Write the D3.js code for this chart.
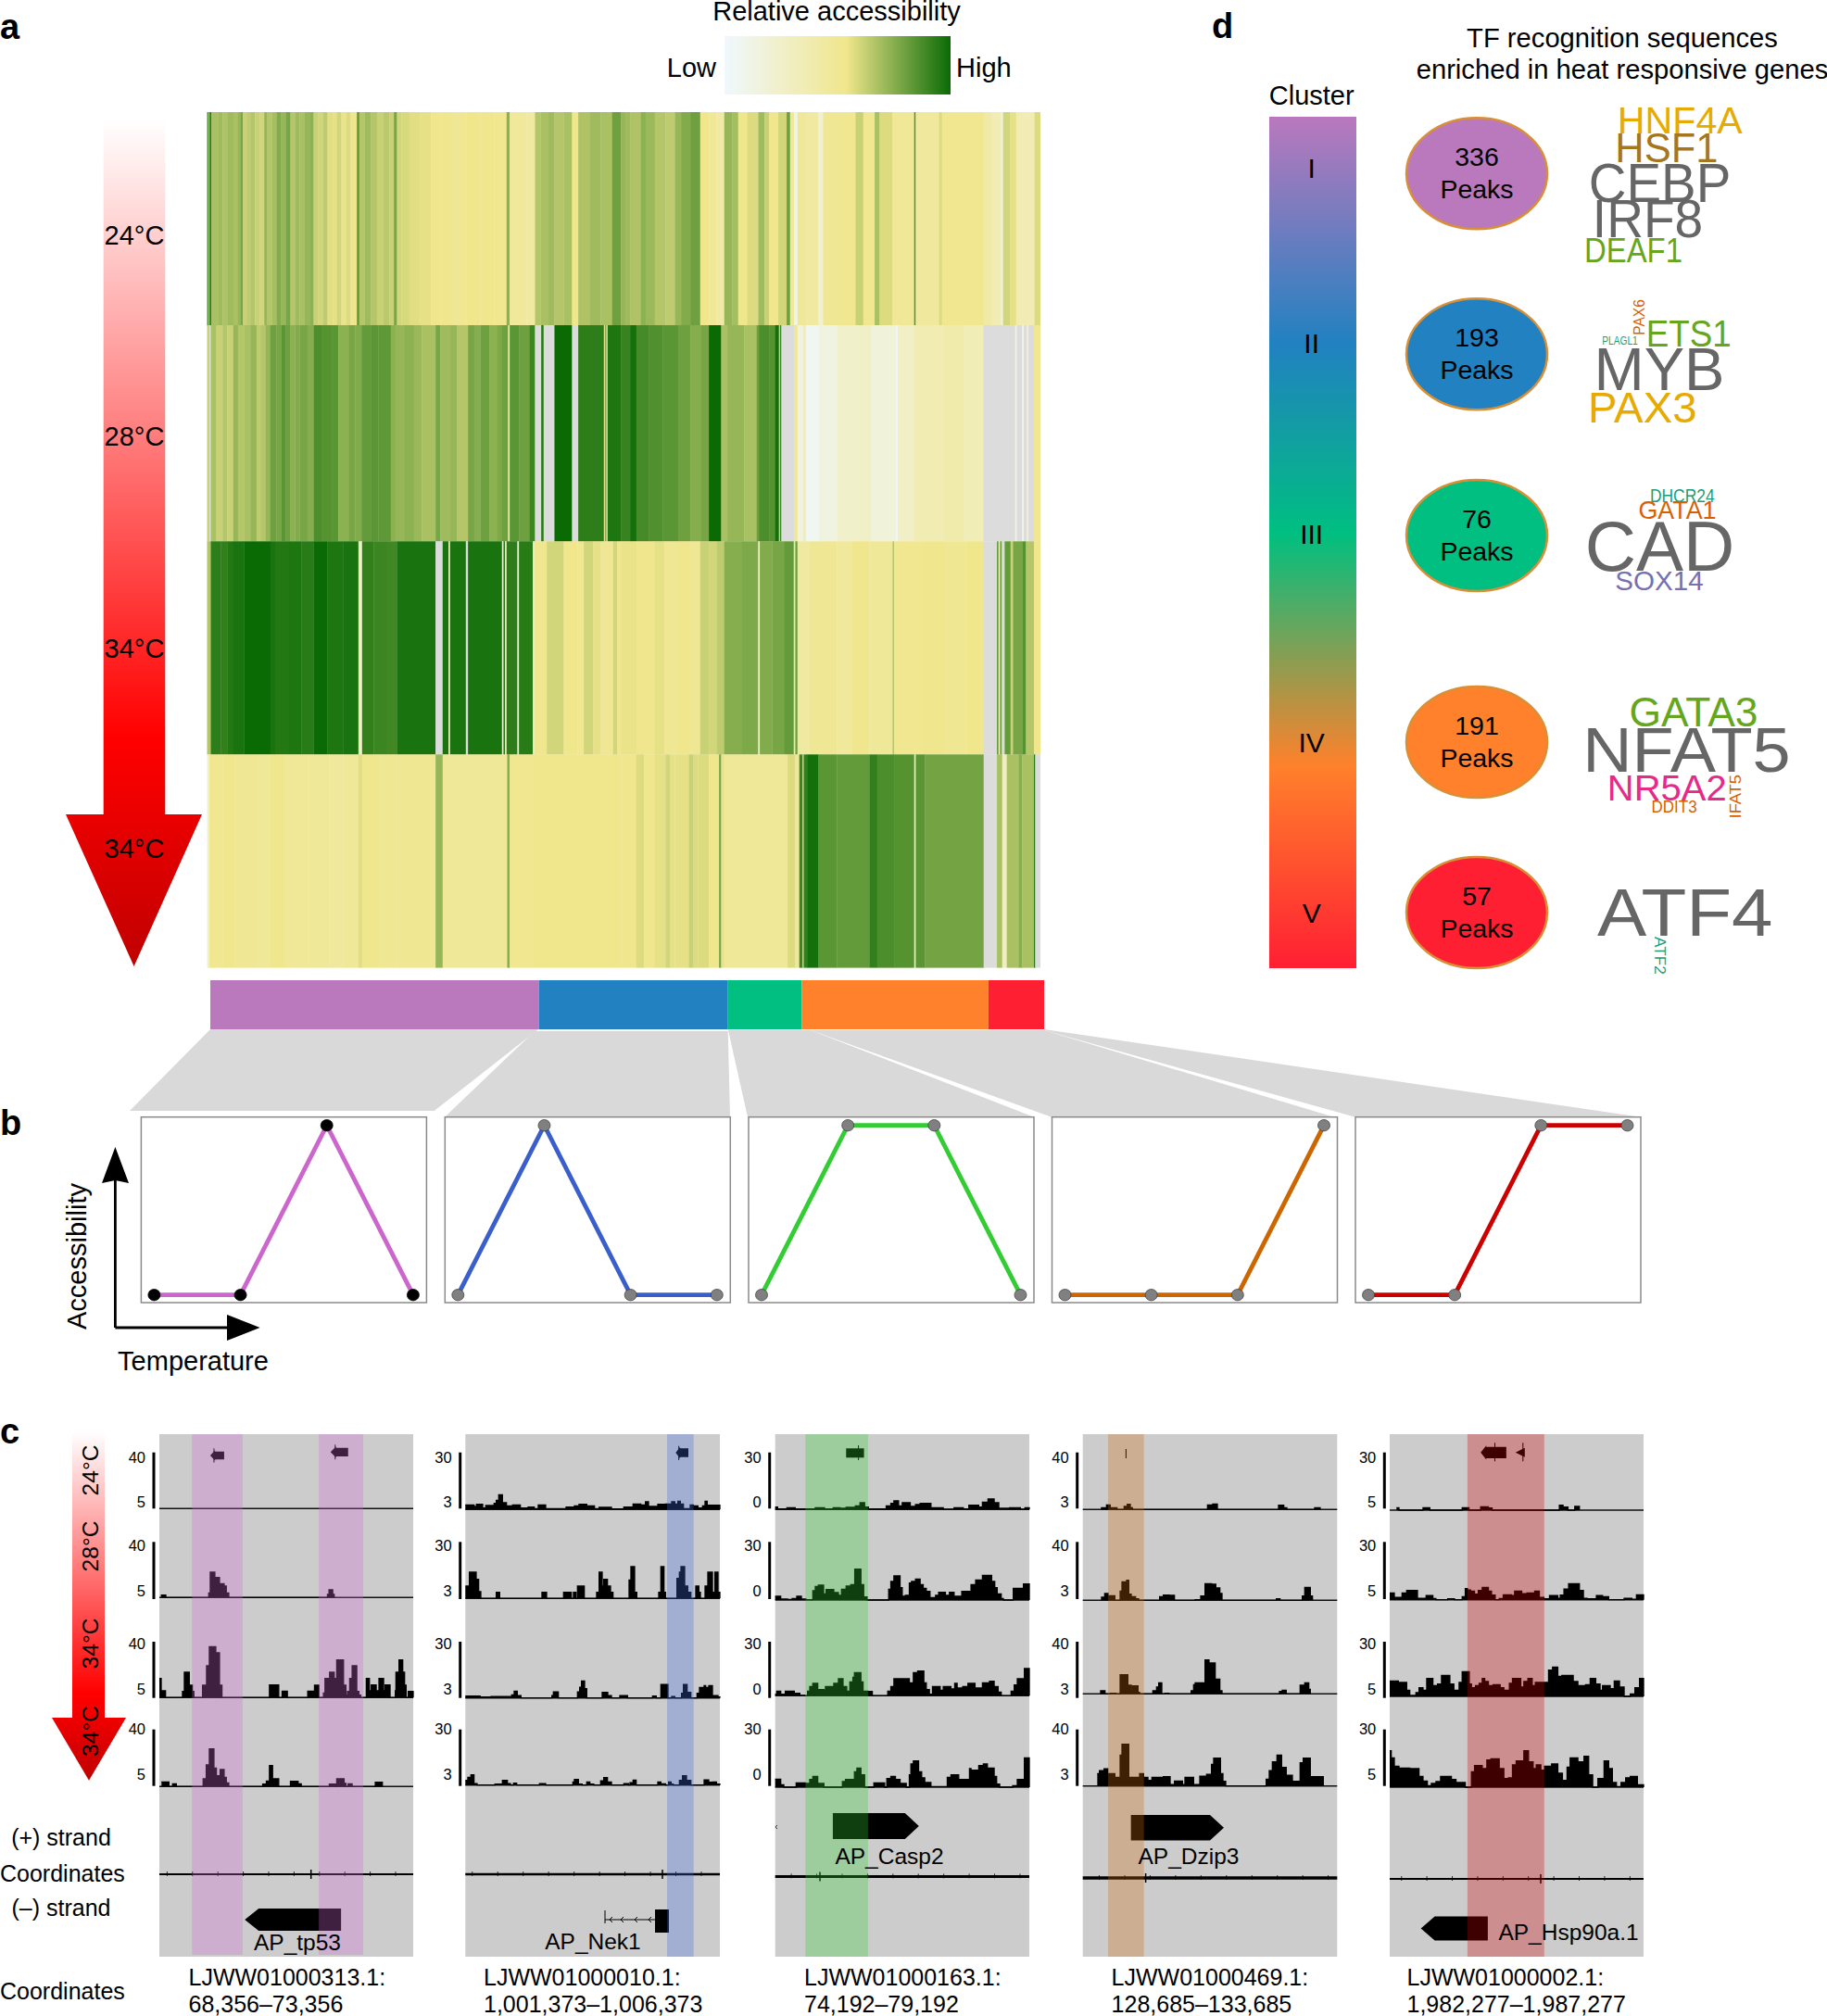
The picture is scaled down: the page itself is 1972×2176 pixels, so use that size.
<!DOCTYPE html>
<html><head><meta charset="utf-8">
<script src="https://cdn.jsdelivr.net/npm/d3@7"></script>
<style>html,body{margin:0;padding:0;background:#fff}svg{display:block}text{font-family:"Liberation Sans",Arial,sans-serif;fill:#000}</style>
</head><body><div id="chart"></div>
<script>
// ---------- DATA ----------
const temperatures = ["24°C","28°C","34°C","34°C"];
const clusters = ["I","II","III","IV","V"];
const peakCounts = [336,193,76,191,57];
const clusterColors = ["#ba78bd","#2181c1","#00bf80","#ff812b","#ff1f33"];
const profileI   = [0,0,1,0];
const profileII  = [0,1,0,0];
const profileIII = [0,1,1,0];
const profileIV  = [0,0,0,1];
const profileV   = [0,0,1,1];
const profileColors = ["#cc66cc","#3a5fcd","#32cd32","#cd6600","#cd0000"];

// heat map rows: [peak rank at which the stripe starts, relative accessibility]; null = no data
const heat24 = [[10,.85],[14,.7],[18,.92],[24,.68],[45,.7],[60,.67],[75,.7],[95,.68],[110,.72],[118,.78],[126,.62],[140,.64],[150,.66],[165,.62],[180,.6],[195,.72],[205,.66],[220,.69],[235,.76],[250,.72],[265,.78],[280,.66],[295,.7],[310,.68],[325,.72],[342,.74],[355,.62],[370,.6],[385,.64],[400,.57],[418,.56],[430,.6],[445,.55],[460,.58],[475,.54],[495,.82],[503,.66],[520,.7],[540,.66],[560,.62],[580,.65],[600,.62],[615,.78],[625,.6],[640,.59],[665,.57],[700,.56],[735,.54],[765,.53],[800,.5],[830,.52],[850,.54],[895,.53],[940,.52],[980,.74],[990,.47],[1045,.44],[1072,.66],[1090,.68],[1115,.7],[1135,.66],[1165,.68],[1192,.54],[1212,.67],[1250,.7],[1285,.68],[1322,.8],[1350,.72],[1365,.7],[1380,.67],[1415,.74],[1430,.71],[1460,.66],[1495,.64],[1525,.72],[1545,.76],[1575,.8],[1607,.54],[1635,.48],[1660,.42],[1685,.72],[1710,.69],[1730,.54],[1760,.58],[1795,.7],[1815,.62],[1830,.54],[1860,.6],[1887,.8],[1898,.47],[1912,.1],[1922,.48],[1950,.44],[1990,.2],[2005,.5],[2060,.52],[2110,.62],[2135,.52],[2172,.68],[2188,.58],[2230,.49],[2300,.85],[2305,.46],[2380,.58],[2390,.52],[2525,.42],[2550,.36],[2580,.2],[2588,.6],[2610,.56],[2630,.35],[2690,.58]];
const heat28 = [[10,.62],[18,null],[22,.68],[40,.62],[60,.66],[75,.62],[95,.72],[110,.66],[130,.68],[150,.72],[170,.64],[185,.66],[200,.72],[215,.8],[235,.78],[250,.84],[265,.8],[280,.74],[295,.76],[310,.78],[335,.75],[355,.87],[380,.85],[410,.84],[435,.74],[470,.78],[490,.76],[510,.82],[540,.84],[565,.83],[605,.74],[620,.72],[650,.74],[680,.71],[705,.68],[750,.78],[765,.7],[795,.72],[820,.66],[855,.78],[875,.75],[895,.8],[925,.74],[950,.77],[965,.8],[985,.5],[990,.84],[1020,.8],[1055,.9],[1072,null],[1092,.93],[1100,null],[1135,1],[1192,null],[1212,.93],[1295,.55],[1300,.93],[1303,.4],[1307,.96],[1350,.91],[1380,.98],[1400,.88],[1440,.86],[1485,.84],[1535,.8],[1575,.75],[1610,.78],[1635,1],[1675,.68],[1695,.72],[1750,.68],[1790,.8],[1797,.87],[1830,.85],[1850,.98],[1862,.3],[1865,.9],[1870,null],[1912,.5],[1922,.15],[1940,.3],[1950,.06],[1990,.15],[2050,.25],[2120,.27],[2160,.18],[2240,.05],[2247,.27],[2300,.36],[2395,.4],[2460,.34],[2525,null],[2627,.1],[2632,null],[2650,.1],[2655,null],[2665,.2],[2670,null],[2688,.52]];
const heat34a = [[10,.66],[22,.93],[55,.92],[75,.95],[95,.97],[130,1],[215,.97],[230,.95],[275,.96],[315,.94],[355,1],[400,.96],[450,.97],[500,.5],[505,.2],[512,.92],[550,.9],[590,.89],[625,.97],[750,null],[773,.97],[792,.3],[797,.97],[848,null],[855,.97],[965,.2],[970,.95],[975,.3],[980,.93],[1015,.2],[1020,.94],[1065,.3],[1070,.53],[1110,.6],[1165,.54],[1210,.52],[1230,.6],[1260,.56],[1285,.5],[1325,.6],[1338,.54],[1350,.55],[1400,.53],[1460,.56],[1490,.5],[1530,.53],[1575,.5],[1607,.62],[1635,.6],[1660,.64],[1685,.75],[1740,.77],[1795,.3],[1800,.76],[1840,.78],[1880,.82],[1910,.4],[1915,.8],[1922,.44],[1960,.5],[2050,.47],[2100,.53],[2155,.48],[2230,.66],[2235,.52],[2330,.53],[2400,.51],[2470,.54],[2525,null],[2568,.82],[2573,.3],[2578,.8],[2584,null],[2593,.82],[2612,.62],[2620,.78],[2650,.85],[2662,.66],[2688,.54]];
const heat34b = [[10,.2],[17,.52],[60,.54],[100,.5],[125,.5],[170,.48],[215,.53],[260,.49],[340,.48],[405,.46],[450,.48],[500,.57],[512,.53],[570,.51],[625,.51],[750,.72],[773,.48],[982,.75],[990,.52],[1070,.54],[1350,.53],[1400,.58],[1425,.53],[1460,.56],[1495,.6],[1510,.56],[1525,.56],[1570,.62],[1585,.58],[1600,.58],[1635,.54],[1668,.78],[1675,.55],[1685,.48],[1890,.58],[1915,.48],[1928,.9],[1939,.35],[1942,.92],[1955,.98],[1990,.84],[2050,.82],[2155,.92],[2180,.87],[2235,.85],[2300,.3],[2305,.84],[2335,.79],[2525,null],[2568,.68],[2585,.3],[2600,.68],[2638,.75],[2650,.68],[2688,.95],[2692,null]];
const heatRows = [heat24, heat28, heat34a, heat34b];

// signal tracks: [window position where the step starts, signal]
const tp53Track = [
 [],
 [[130,8],[146,0],[285,15],[290,82],[305,65],[320,45],[335,37],[342,15],[350,0],[670,10],[675,25],[687,10],[692,0]],
 [[125,62],[131,22],[145,0],[200,20],[206,82],[222,40],[232,20],[237,0],[265,40],[278,103],[287,165],[308,145],[320,40],[328,0],[482,41],[512,0],[523,21],[540,0],[606,21],[628,40],[642,0],[657,15],[662,62],[677,82],[692,62],[700,122],[722,40],[730,8],[735,20],[742,62],[750,103],[765,20],[772,8],[778,0],[796,62],[806,22],[812,41],[828,22],[837,62],[852,22],[857,41],[873,0],[890,22],[892,82],[902,122],[914,82],[920,40],[925,0],[932,20],[948,0]],
 [[132,15],[156,0],[168,9],[180,0],[267,25],[277,70],[287,122],[302,60],[310,35],[322,55],[335,30],[342,12],[350,0],[460,8],[472,18],[482,68],[492,25],[512,0],[550,17],[575,9],[585,0],[676,8],[696,0],[700,25],[724,10],[730,0],[737,9],[750,0],[825,14],[848,0]]
];
const nek1Track = [
 [[112,15],[140,10],[148,17],[168,5],[178,13],[205,20],[212,30],[220,48],[232,22],[245,12],[265,15],[290,5],[315,8],[335,3],[348,15],[372,3],[438,8],[465,12],[480,17],[505,12],[530,3],[545,7],[585,2],[625,8],[655,18],[680,15],[695,25],[705,10],[735,17],[760,18],[780,25],[790,18],[800,27],[808,18],[818,3],[840,15],[850,12],[865,5],[880,12],[888,27],[895,14],[936,0]],
 [[112,40],[125,85],[147,62],[155,22],[162,0],[212,20],[223,0],[360,20],[375,0],[430,20],[455,0],[462,20],[470,0],[475,40],[497,0],[537,20],[545,85],[555,40],[560,62],[572,40],[582,20],[590,0],[642,60],[648,103],[660,20],[667,0],[738,20],[745,103],[755,20],[760,0],[797,65],[805,85],[810,103],[822,40],[832,20],[842,0],[858,40],[868,20],[873,0],[888,40],[897,85],[912,20],[920,85],[930,20],[936,0]],
 [[112,6],[160,3],[195,5],[262,10],[270,22],[280,8],[292,0],[392,8],[397,20],[413,0],[475,20],[482,35],[488,55],[498,30],[505,0],[555,18],[573,8],[585,0],[612,8],[637,0],[718,6],[730,0],[745,44],[768,0],[780,5],[790,0],[812,15],[818,44],[830,18],[842,0],[862,15],[870,34],[885,40],[890,34],[900,40],[912,8],[930,3],[936,0]],
 [[112,15],[120,25],[130,33],[140,5],[150,0],[208,3],[232,15],[248,5],[258,0],[268,6],[278,0],[352,5],[372,0],[460,10],[465,18],[478,3],[490,0],[505,10],[515,3],[528,0],[550,14],[560,24],[572,10],[585,0],[625,5],[640,0],[645,8],[655,16],[665,0],[735,10],[745,4],[760,0],[770,10],[778,3],[785,0],[805,15],[815,30],[828,15],[842,0],[885,17],[900,9],[912,10],[925,3],[936,0]]
];
const casp2Track = [
 [[110,8],[118,2],[148,6],[175,2],[240,6],[270,2],[298,6],[320,4],[340,7],[370,12],[385,22],[400,8],[412,2],[470,12],[485,20],[495,28],[510,12],[522,22],[548,10],[565,16],[580,20],[615,6],[655,1],[690,6],[720,2],[738,14],[770,8],[782,24],[800,34],[820,22],[835,4],[870,6],[905,1],[920,6],[934,0]],
 [[110,12],[128,3],[150,2],[165,5],[180,12],[195,3],[210,1],[232,30],[240,44],[250,48],[267,20],[275,34],[300,24],[315,15],[325,35],[340,45],[355,50],[368,100],[388,50],[397,10],[408,0],[478,35],[485,60],[495,78],[515,40],[522,12],[532,15],[545,55],[552,60],[565,68],[580,50],[590,38],[600,28],[612,8],[630,15],[640,25],[662,15],[675,25],[690,12],[715,28],[745,50],[760,65],[782,80],[812,60],[822,40],[830,20],[843,5],[850,0],[882,38],[915,52],[934,0]],
 [[110,5],[115,15],[128,5],[143,15],[172,8],[190,1],[205,0],[215,15],[222,30],[232,40],[248,20],[268,18],[273,30],[300,40],[315,55],[330,30],[342,15],[352,45],[362,60],[367,75],[388,45],[395,15],[410,14],[425,0],[475,15],[485,30],[495,55],[545,42],[558,75],[572,80],[592,42],[600,20],[610,5],[620,30],[645,18],[655,30],[680,22],[692,40],[700,25],[718,30],[735,40],[758,25],[782,42],[805,47],[820,30],[833,12],[843,0],[875,15],[885,35],[895,55],[918,88],[934,0]],
 [[110,26],[128,8],[138,0],[178,14],[208,12],[222,25],[232,35],[248,12],[268,0],[328,18],[338,25],[367,50],[375,62],[388,40],[400,0],[430,14],[465,0],[472,28],[485,35],[500,25],[515,12],[535,0],[545,40],[550,75],[558,85],[575,50],[585,30],[595,15],[615,2],[668,32],[680,40],[705,25],[740,60],[745,55],[770,70],[785,75],[798,62],[820,35],[828,10],[838,0],[880,5],[895,25],[918,95],[934,0]]
];
const dzip3Track = [
 [[160,6],[178,15],[190,6],[212,0],[235,10],[245,17],[255,6],[262,0],[505,15],[522,18],[537,0],[735,14],[752,6],[762,0],[852,6],[870,0]],
 [[160,10],[172,22],[183,0],[185,15],[205,0],[222,30],[228,60],[243,65],[250,20],[258,12],[272,5],[282,0],[350,12],[362,17],[382,16],[398,0],[465,2],[483,14],[497,54],[518,52],[532,40],[545,22],[552,0],[728,5],[740,0],[812,14],[820,42],[838,14],[845,0]],
 [[157,10],[173,0],[190,2],[208,0],[222,62],[247,28],[258,8],[262,26],[280,5],[285,0],[328,10],[340,22],[347,36],[357,0],[367,2],[380,0],[452,10],[460,30],[465,36],[497,110],[510,100],[530,48],[545,10],[552,0],[738,8],[747,12],[760,0],[805,28],[820,36],[833,15],[838,0]],
 [[148,40],[155,50],[170,56],[182,40],[205,28],[222,100],[228,135],[250,28],[285,40],[298,28],[312,18],[325,28],[362,30],[384,5],[398,16],[424,5],[432,28],[460,5],[480,32],[502,38],[518,70],[525,90],[547,40],[555,15],[564,0],[695,22],[705,50],[715,78],[730,100],[745,60],[760,35],[780,15],[805,75],[815,90],[838,30],[880,0]]
];
const hsp90Track = [
 [[172,8],[180,0],[258,8],[280,0],[385,8],[407,0],[445,11],[470,7],[482,0],[700,16],[712,10],[728,0],[750,12],[765,0]],
 [[150,22],[165,8],[190,22],[205,30],[240,5],[268,14],[290,4],[300,0],[338,3],[360,0],[385,10],[395,36],[402,32],[412,28],[425,18],[437,30],[450,40],[470,28],[480,15],[492,0],[505,4],[518,16],[545,14],[555,28],[578,20],[595,22],[620,28],[635,8],[650,3],[668,14],[695,5],[703,15],[715,35],[730,52],[765,30],[778,5],[790,3],[820,14],[840,10],[860,0],[910,5],[935,2],[950,16],[973,0]],
 [[150,50],[178,45],[205,20],[215,3],[235,12],[245,28],[258,20],[270,58],[290,35],[305,40],[318,68],[345,40],[358,20],[375,45],[385,80],[408,40],[415,28],[428,35],[440,42],[450,58],[458,48],[470,35],[485,38],[508,28],[520,20],[538,42],[548,58],[575,30],[585,48],[598,58],[612,35],[622,45],[665,85],[678,95],[695,65],[708,68],[745,48],[760,35],[785,38],[800,58],[818,40],[832,20],[840,35],[865,25],[878,50],[895,30],[910,0],[930,8],[945,28],[960,58],[973,0]],
 [[150,118],[155,95],[165,68],[180,62],[215,60],[245,35],[258,20],[272,5],[285,12],[300,18],[315,35],[350,25],[365,15],[395,0],[415,50],[425,70],[450,60],[465,88],[478,92],[505,60],[520,28],[535,30],[548,72],[560,85],[585,118],[600,82],[615,60],[625,72],[640,55],[652,68],[675,75],[695,45],[710,22],[725,65],[735,95],[760,82],[780,100],[795,40],[808,0],[825,28],[845,85],[860,60],[872,15],[885,2],[900,15],[915,30],[930,35],[953,8],[973,0]]
];
const panelWindows = [[125,948],[112,936],[110,934],[101,925],[150,973]];
const panelTracks = [tp53Track,nek1Track,casp2Track,dzip3Track,hsp90Track];
const scaleTops = [40,30,30,40,30];
const scaleBottoms = [5,3,0,3,5];
const highlightSpans = [[[231,395],[642,786]],[[765,851]],[[208,411]],[[183,299]],[[402,651]]];
const geneNames = ["AP_tp53","AP_Nek1","AP_Casp2","AP_Dzip3","AP_Hsp90a.1"];
const geneSpans = [[402,714],[726,771],[297,576],[257,558],[251,468]];
const geneStrand = [-1,0,1,1,-1];
const scaffolds = ["LJWW01000313.1:","LJWW01000010.1:","LJWW01000163.1:","LJWW01000469.1:","LJWW01000002.1:"];
const coordStarts = [68356,1001373,74192,128685,1982277];
const coordEnds   = [73356,1006373,79192,133685,1987277];
const coordText = ["68,356–73,356","1,001,373–1,006,373","74,192–79,192","128,685–133,685","1,982,277–1,987,277"];

const motifWords  = ["HNF4A","HSF1","CEBP","IRF8","DEAF1","PAX6","PLAGL1","ETS1","MYB","PAX3","DHCR24","GATA1","CAD","SOX14","GATA3","NFAT5","NR5A2","DDIT3","IFAT5","ATF4","ATF2"];
const motifColors = ["#e6ab02","#a6761d","#666666","#666666","#66a61e","#d95f02","#1b9e77","#66a61e","#666666","#e6ab02","#1b9e77","#d95f02","#666666","#7570b3","#66a61e","#666666","#e7298a","#d95f02","#d95f02","#666666","#1b9e77"];

// ---------- DRAWING ----------
const svg = d3.select("#chart").append("svg").attr("width",1972).attr("height",2176);
const defs = svg.append("defs");
function grad(id,stops,){const g=defs.append("linearGradient").attr("id",id).attr("x1",0).attr("y1",0).attr("x2",0).attr("y2",1);
  stops.forEach(s=>g.append("stop").attr("offset",s[0]).attr("stop-color",s[1]));return g;}
function txt(x,y,s,size,o={}){return svg.append("text").attr("x",x).attr("y",y).attr("dy",o.dy??".35em").attr("font-size",size)
  .attr("text-anchor",o.anchor||"middle").attr("font-weight",o.weight||null).text(s);}
function rtxt(x,y,s,size){return svg.append("text").attr("transform",`translate(${x},${y}) rotate(-90)`).attr("dy",".35em").attr("font-size",size).attr("text-anchor","middle").text(s);}
[["a",0,41.5],["b",0,1225],["c",0,1557.5],["d",1308,40.7]].forEach(d=>txt(d[1],d[2],d[0],38,{anchor:"start",weight:"bold",dy:0}));

// ---- a: heat map
const heatColor = d3.scaleLinear().domain([0,.54,1]).range(["#f0f8ff","#f0e68c","#0a6b05"]).interpolate(d3.interpolateRgb);
const rankX = d3.scaleLinear().domain([10,2708]).range([223.5,1122.7]);
const rowEdges = [121,351,584.3,814.3,1044.3];
heatRows.forEach((row,i)=>{
  svg.append("g").selectAll("rect").data(row).join("rect")
    .attr("x",d=>rankX(d[0]))
    .attr("width",(d,j)=>rankX(j+1<row.length?row[j+1][0]:2708)-rankX(d[0])+.3)
    .attr("y",rowEdges[i]).attr("height",rowEdges[i+1]-rowEdges[i]+.3)
    .attr("fill",d=>d[1]===null?"#dcdcdc":heatColor(d[1]));
});
const lg = defs.append("linearGradient").attr("id","legendGrad");
d3.range(0,1.001,.02).forEach(t=>lg.append("stop").attr("offset",t).attr("stop-color",heatColor(t)));
svg.append("rect").attr("x",782).attr("y",39).attr("width",244).attr("height",63).attr("fill","url(#legendGrad)");
txt(903,12,"Relative accessibility",29);
txt(773,73,"Low",29,{anchor:"end"});
txt(1032,73,"High",29,{anchor:"start"});

grad("tempGrad",[[0,"#ffffff"],[.73,"#ff0000"],[.8,"#f00000"],[1,"#c00000"]]);
function tempArrow(l,r,hl,hr,tipX,top,neck,bottom){
  svg.append("path").attr("d",d3.line()([[l,top],[r,top],[r,neck],[hr,neck],[tipX,bottom],[hl,neck],[l,neck]])+"Z").attr("fill","url(#tempGrad)");
}
tempArrow(111.7,178.3,71,218,144.6,128.6,879,1043);
[253.6,470.7,700,915.7].forEach((y,i)=>txt(145,y,temperatures[i],29));

// ---- cluster strip and funnels
const peakX = d3.scaleLinear().domain([0,d3.sum(peakCounts)]).range([227,1127]);
const cum = d3.cumsum(peakCounts);
const funnels = [
 [[227,1111],[581,1111],[468.7,1199],[140,1199]],
 [[577,1113],[785.7,1113],[788,1205.7],[480,1205.7]],
 [[786,1112],[875,1112],[1116,1205.7],[807,1205.7]],
 [[875,1112],[1127,1112],[1440,1205.7],[1135,1205.7]],
 [[1127,1112],[1127,1111],[1771,1205.7],[1463,1205.7]]];
svg.append("g").selectAll("path").data(funnels).join("path").attr("d",d=>d3.line()(d)+"Z").attr("fill","#d9d9d9");
svg.append("g").selectAll("rect").data(peakCounts).join("rect")
  .attr("x",(d,i)=>peakX(cum[i]-d)).attr("width",d=>peakX(d)-peakX(0))
  .attr("y",1058).attr("height",53).attr("fill",(d,i)=>clusterColors[i]);

// ---- b: profiles
const profiles=[profileI,profileII,profileIII,profileIV,profileV];
const profX0=[152.4,480.3,808,1135.5,1463];
const tempX=d3.scaleLinear().domain([0,3]).range([14,293.5]);
const accY=d3.scaleLinear().domain([0,1]).range([1397.7,1214.7]);
profiles.forEach((p,i)=>{
  const g=svg.append("g").attr("transform",`translate(${profX0[i]},0)`);
  g.append("rect").attr("y",1205.7).attr("width",308).attr("height",200.3).attr("fill","#fff").attr("stroke","#8a8a8a").attr("stroke-width",1.5);
  g.append("path").attr("d",d3.line().x((d,j)=>tempX(j)).y(d=>accY(d))(p)).attr("fill","none").attr("stroke",profileColors[i]).attr("stroke-width",4.8);
  g.selectAll("ellipse").data(p).join("ellipse").attr("cx",(d,j)=>tempX(j)).attr("cy",d=>accY(d)).attr("rx",6.5).attr("ry",6.2)
    .attr("fill",i==0?"#000":"#808080").attr("stroke",i==0?"#000":"#444").attr("stroke-width",.8);
});
svg.append("path").attr("d","M124.4,1433V1270M124.4,1433H250").attr("fill","none").attr("stroke","#000").attr("stroke-width",2.8);
svg.append("path").attr("d","M124.4,1238L139,1277L124.4,1274L110,1277Z").attr("fill","#000");
svg.append("path").attr("d","M280.6,1433L245,1447L245,1419Z").attr("fill","#000");
rtxt(83,1356,"Accessibility",29);
txt(208.5,1469,"Temperature",29);

// ---- c: tracks
grad("tempGrad2",[[0,"#ffffff"],[.75,"#ff0000"],[.82,"#f00000"],[1,"#c00000"]]);
svg.append("path").attr("d",d3.line()([[78,1545],[113,1545],[113,1854],[136,1854],[96,1921.7],[56,1854],[78,1854]])+"Z").attr("fill","url(#tempGrad2)");
[1587,1669,1774,1868.5].forEach((y,i)=>rtxt(97,y,temperatures[i],24.5));
txt(66,1983,"(+) strand",25);
txt(0,2022,"Coordinates",25,{anchor:"start"});
txt(66,2059,"(–) strand",25);
txt(0,2149,"Coordinates",25,{anchor:"start"});

const panelX=[[172,446],[502.3,777],[836.7,1111],[1168.7,1443.3],[1500,1774]];
const baselines=[[1628.3,1724.3,1832.3,1928.3],[1629.3,1725.3,1832.7,1926.7],[1629.3,1727,1830.3,1929],[1629.3,1727.3,1828.3,1927.7],[1630,1726.7,1831,1929]];
const barX=[166,496.7,830.7,1162.7,1494.3];
const barSpans=[[1567.7,1628.3],[1664.3,1726],[1772,1832.7],[1866.7,1927.7]];
const labelY=[[1573,1621.7],[1668.3,1717.7],[1774.3,1823.3],[1866.7,1915]];
const axisY=[2023,2023,2025.4,2027,2028];
const axisWidths=[2,2.6,3,3.4,2.2];
const axisMarks=[335.7,715,885,1236.6,1663];
const sigY=d3.scaleLinear().domain([0,180]).range([0,60]);
const overlayColors=["#cf6bd5","#4169e1","#32cd32","#cd6a10","#cd0000"];
const smallGenes=[
 [{a:290,b:335,y0:1566.7,y1:1575.3,dir:-1,tick:302,t0:1563.3,t1:1578.7},{a:680,b:737,y0:1562.7,y1:1572,dir:-1,tick:695,t0:1559.3,t1:1575.3}],
 [{a:793,b:834,y0:1563.3,y1:1572.7,dir:-1,tick:803,t0:1560.7,t1:1576}],
 [{a:340,b:398,y0:1563.3,y1:1573.3,dir:0,tick:380,t0:1560,t1:1576}],
 [{a:240,b:242,y0:1564,y1:1574,dir:0,tick:241,t0:1564,t1:1574}],
 [{a:445,b:528,y0:1561.7,y1:1574,dir:-1,tick:491,t0:1557.3,t1:1577.3},{a:558,b:588,y0:1562.7,y1:1572.7,dir:-2,tick:582,t0:1557.3,t1:1577.3}]];
const bigGeneY=[[2060,2084],[2061,2086],[1957,1985],[1959,1986.5],[2068.5,2094.5]];
const geneLabel=[[321,2096.6],[640,2095],[960,2003],[1283,2003],[1693,2085.7]];

panelTracks.forEach((tracks,pi)=>{
  const [x0,x1]=panelX[pi];
  const x=d3.scaleLinear().domain(panelWindows[pi]).range([x0,x1]);
  const g=svg.append("g");
  g.append("rect").attr("x",x0).attr("y",1548).attr("width",x1-x0).attr("height",564).attr("fill","#cccccc");
  tracks.forEach((tr,ti)=>{
    const base=baselines[pi][ti];
    g.append("line").attr("x1",x0).attr("x2",x1).attr("y1",base).attr("y2",base).attr("stroke","#111").attr("stroke-width",1.5);
    if(tr.length){
      g.append("path").datum(tr).attr("d",d3.area().curve(d3.curveStepAfter).x(d=>x(d[0])).y0(base).y1(d=>base-sigY(d[1]))).attr("fill","#000");
      g.append("path").datum(tr).attr("d",d3.line().curve(d3.curveStepAfter).x(d=>x(d[0])).y(d=>base-sigY(d[1]))).attr("fill","none").attr("stroke","#000").attr("stroke-width",1.3);
    }
    g.append("line").attr("x1",barX[pi]).attr("x2",barX[pi]).attr("y1",barSpans[ti][0]).attr("y2",barSpans[ti][1]).attr("stroke","#000").attr("stroke-width",3);
    txt(barX[pi]-9,labelY[ti][0],scaleTops[pi],16.5,{anchor:"end"});
    txt(barX[pi]-9,labelY[ti][1],scaleBottoms[pi],16.5,{anchor:"end"});
  });
  smallGenes[pi].forEach(s=>{
    const a=x(s.a),b=x(s.b);
    let pts;
    if(s.dir===-1){const n=a+Math.min(6,(b-a)*.35);pts=[[a,(s.y0+s.y1)/2],[n,s.y0-1.5],[n,s.y0],[b,s.y0],[b,s.y1],[n,s.y1],[n,s.y1+1.5]];}
    else if(s.dir===-2){pts=[[a,(s.y0+s.y1)/2],[b,s.y0],[b,s.y1]];}
    else pts=[[a,s.y0],[b,s.y0],[b,s.y1],[a,s.y1]];
    g.append("path").attr("d",d3.line()(pts)+"Z").attr("fill","#000");
    g.append("line").attr("x1",x(s.tick)).attr("x2",x(s.tick)).attr("y1",s.t0).attr("y2",s.t1).attr("stroke","#000").attr("stroke-width",1);
  });
  const coord=d3.scaleLinear().domain([coordStarts[pi],coordEnds[pi]]).range([x0,x1]);
  const ax=g.append("g").attr("transform",`translate(0,${axisY[pi]})`).call(d3.axisBottom(coord).ticks(10).tickSize(2).tickFormat(""));
  ax.select(".domain").attr("stroke","#000").attr("stroke-width",axisWidths[pi]).attr("d",`M${x0},0H${x1}`);
  ax.selectAll(".tick line").attr("y1",-3).attr("stroke","#000").attr("stroke-width",.8);
  g.append("line").attr("x1",axisMarks[pi]).attr("x2",axisMarks[pi]).attr("y1",axisY[pi]-5).attr("y2",axisY[pi]+5).attr("stroke","#000").attr("stroke-width",1.5);
  const [ga,gb]=geneSpans[pi].map(x),[gy0,gy1]=bigGeneY[pi],st=geneStrand[pi],hd=15,my=(gy0+gy1)/2;
  let gp;
  if(st===-1) gp=[[ga,my],[ga+hd,gy0],[gb,gy0],[gb,gy1],[ga+hd,gy1]];
  else if(st===1) gp=[[ga,gy0],[gb-hd,gy0],[gb,my],[gb-hd,gy1],[ga,gy1]];
  else gp=[[ga,gy0],[gb,gy0],[gb,gy1],[ga,gy1]];
  g.append("path").attr("d",d3.line()(gp)+"Z").attr("fill","#000");
  if(st===0){
    g.append("path").attr("d","M653,2072H707M653,2062V2076").attr("stroke","#000").attr("fill","none").attr("stroke-width",1);
    [659,671,686,701].forEach(c=>g.append("path").attr("d",`M${c+2},2069L${c-1},2072L${c+2},2075`).attr("stroke","#000").attr("fill","none").attr("stroke-width",1));
  }
  g.selectAll("rect.hl").data(highlightSpans[pi]).join("rect").attr("class","hl")
    .attr("x",d=>x(d[0])).attr("width",d=>x(d[1])-x(d[0])).attr("y",1548).attr("height",pi==0?562:564)
    .attr("fill",overlayColors[pi]).attr("fill-opacity",.3);
  txt(geneLabel[pi][0],geneLabel[pi][1],geneNames[pi],24.5);
});
[203.5,522,868,1199.6,1518.5].forEach((x,i)=>{
  txt(x,2134,scaffolds[i],25,{anchor:"start"});
  txt(x,2163,coordText[i],25,{anchor:"start"});
});

// ---- d: cluster bar, ellipses, word clouds
txt(1415.7,103,"Cluster",29);
grad("clusterGrad",[[0,clusterColors[0]],[.267,clusterColors[1]],[.49,clusterColors[2]],[.763,clusterColors[3]],[1,clusterColors[4]]]);
svg.append("rect").attr("x",1370).attr("y",126).attr("width",94).attr("height",919).attr("fill","url(#clusterGrad)");
[181,370,576.6,801,985.6].forEach((y,i)=>txt(1415.7,y,clusters[i],30));
txt(1751,40.7,"TF recognition sequences",29.2);
txt(1751,75,"enriched in heat responsive genes",29.2);
[187.3,382.3,578,801,985].forEach((cy,i)=>{
  svg.append("ellipse").attr("cx",1594).attr("cy",cy).attr("rx",76).attr("ry",60).attr("fill",clusterColors[i]).attr("stroke","#d98f35").attr("stroke-width",2.5);
  txt(1594,cy-18,peakCounts[i],28.5);
  txt(1594,cy+17,"Peaks",28.5);
});
const motifBoxes=[[1748,1878.6,114.3,143.8,0],[1745.8,1852,143.8,175.4,0],[1718,1865,175.4,217.5,0],[1722,1835,215,256,0],[1712,1814,256,282.7,0],
 [1763.8,1775,324,361,-90],[1730,1767,362.7,371.8,0],[1779,1866.6,345,374,0],[1724,1858,375,421,0],[1716.6,1829,423,456,0],
 [1782,1849.5,527.5,541.6,0],[1770,1851,540,560,0],[1715,1868,561,616,0],[1745,1837,616,637,0],
 [1761,1895,752,784,0],[1712,1929,784,832.7,0],[1737,1861.5,836,864,0],[1783.5,1830.6,864,877,0],[1866.6,1878.6,837,882.5,-90],
 [1728,1909.5,958,1010,0],[1785.6,1797,1012,1051,90]];
motifWords.forEach((w,i)=>{
  const [a,b,c,d,r]=motifBoxes[i];
  const t=svg.append("text").text(w).style("fill",motifColors[i]).attr("lengthAdjust","spacingAndGlyphs");
  const fs=(r===0?(d-c):(b-a))/.716, pad=.055*fs;
  if(r===0) t.attr("x",a-pad).attr("y",d).attr("font-size",fs).attr("textLength",b-a+2*pad);
  else if(r===-90) t.attr("transform",`translate(${b},${d+pad}) rotate(-90)`).attr("font-size",fs).attr("textLength",d-c+2*pad);
  else t.attr("transform",`translate(${a},${c-pad}) rotate(90)`).attr("font-size",fs).attr("textLength",d-c+2*pad);
});
// tiny mark at the left edge of the Casp2 panel
svg.append("path").attr("d","M839,1970L836.9,1972L839,1974").attr("fill","none").attr("stroke","#333").attr("stroke-width",1);
</script></body></html>
